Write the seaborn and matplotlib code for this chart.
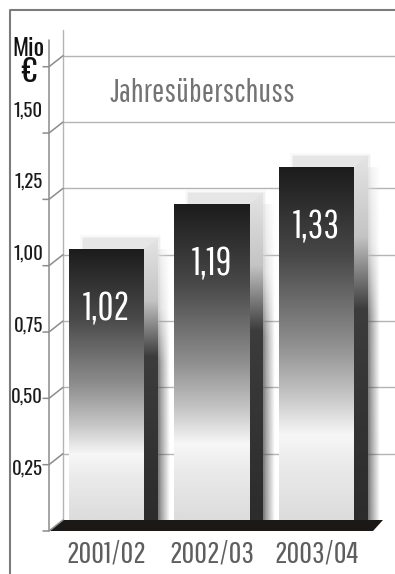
import numpy as np
import pandas as pd
import matplotlib
matplotlib.use("Agg")
import matplotlib.pyplot as plt
from matplotlib.colors import LinearSegmentedColormap
from matplotlib.patches import Polygon, Rectangle
import seaborn as sns

years = ["2001/02", "2002/03", "2003/04"]
values = [1.02, 1.19, 1.33]
value_labels = ["1,02", "1,19", "1,33"]
tick_values = [0.25, 0.50, 0.75, 1.00, 1.25, 1.50, 1.75]
tick_labels = ["0,25", "0,50", "0,75", "1,00", "1,25", "1,50", ""]
title = "Jahresüberschuss"
unit_top = "Mio"
unit_bottom = "€"

W, H = 395, 574
# layout in pixels: value 0 on the floor at y=520, 1 unit = 265.3 px, bars 105 px apart
Y0, YS = 520.0, 265.3
X0, XS = 106.5, 105.0
OX, OY = 14 / XS, 11 / YS   # depth offset of the 3d look

NARROW = ["Pathway Gothic One", "DejaVu Sans"]
HEAVY = ["Oswald", "Pathway Gothic One", "DejaVu Sans"]


def px(x):
    return (x - X0) / XS


def py(y):
    return (Y0 - y) / YS


face_cmap = LinearSegmentedColormap.from_list("face", [
    (0.00, "#1c1c1c"), (0.25, "#484848"), (0.50, "#8e8e8e"), (0.65, "#c6c6c6"),
    (0.76, "#f7f7f7"), (0.84, "#ebebeb"), (1.00, "#dcdcdc")])
side_cmap = LinearSegmentedColormap.from_list("side", [
    (0.00, "#e4e4e4"), (0.22, "#c4c4c4"), (0.42, "#3c3c3c"), (1.00, "#2c2c2c")])

sns.set_style("white")
plt.rcParams['font.family'] = NARROW

fig = plt.figure(figsize=(W / 100, H / 100), dpi=100)
ax = fig.add_axes([0, 0, 1, 1])

df = pd.DataFrame({"year": years, "value": values})
sns.barplot(data=df, x="year", y="value", width=75 / XS, color="white",
            errorbar=None, ax=ax, zorder=6)

grad = np.linspace(0, 1, 256)[:, None]

for patch, lab in zip(list(ax.patches), value_labels):
    x0, w, h = patch.get_x(), patch.get_width(), patch.get_height()
    xr = x0 + w
    patch.set_facecolor("none")
    patch.set_edgecolor("none")

    # soft back box
    for k, a in [(3, 0.15), (1.5, 0.3)]:
        ax.add_patch(Rectangle((x0 + OX - k / XS, 0), w + 2 * k / XS, h + OY + k / YS,
                               facecolor="#d8d8d8", edgecolor="none", alpha=a, zorder=3))
    ax.add_patch(Rectangle((x0 + OX, 0), w, h + OY, facecolor="#e6e6e6",
                           edgecolor="none", zorder=3))

    # shadow right of the side
    sh = np.zeros((256, 32, 4))
    cols = side_cmap(grad[:, 0])
    sh[:, :, :3] = cols[:, None, :3]
    sh[:, :, 3] = np.linspace(0.6, 0, 32)[None, :]
    ax.imshow(sh, extent=(xr + OX, xr + OX + 12 / XS, 0, h), aspect="auto",
              interpolation="bilinear", zorder=4)

    # side face
    side = Polygon([(xr, 0), (xr, h), (xr + OX, h + OY), (xr + OX, 0)],
                   facecolor="none", edgecolor="none", zorder=5)
    ax.add_patch(side)
    im = ax.imshow(grad, cmap=side_cmap, extent=(xr, xr + OX, 0, h + OY),
                   aspect="auto", interpolation="bilinear", zorder=5)
    im.set_clip_path(side)

    # front face
    im = ax.imshow(grad, cmap=face_cmap, extent=(x0, xr, 0, h), aspect="auto",
                   interpolation="bilinear", zorder=6)
    im.set_clip_path(patch)

    ax.text(x0 + w / 2, h - 60 / YS, lab, ha="center", va="center",
            color="white", fontsize=28, zorder=10)

# back wall grid
ax.hlines(tick_values, px(63), px(W), color="#b4b4b4", lw=1, zorder=1)
ax.plot([px(63), px(63)], [0, py(30)], color="#b4b4b4", lw=1, zorder=1)

# floor
ax.add_patch(Polygon([(px(50), py(531)), (px(373), py(531)), (px(383), py(520)),
                      (px(63), py(520))], facecolor="#1b1815", edgecolor="none", zorder=8))

# front axis with slanted ticks
ax.plot([px(49), px(49)], [py(531), py(40)], color="#8c8c8c", lw=1.1, zorder=9)
for v in [0] + tick_values:
    f = v - OY
    ax.plot([px(43), px(49), px(63)], [f, f, v], color="#8c8c8c", lw=1.1, zorder=9)

for v, lab in zip(tick_values, tick_labels):
    ax.text(px(43), py(540 - 286.4 * v), lab, ha="right", va="center",
            fontsize=13.5, family=HEAVY, color="#1a1a1a")

ax.text(px(28.5), py(48), unit_top, ha="center", va="center", fontsize=17.5,
        family=HEAVY, color="#111111")
ax.text(px(28.5), py(73), unit_bottom, ha="center", va="center", fontsize=22,
        family=HEAVY, color="#111111")

ax.text(px(202), py(102), title, ha="center", va="baseline", fontsize=23.5,
        color="#737373")

for i, yr in enumerate(years):
    ax.text(i, py(563), yr, ha="center", va="baseline", fontsize=22.5,
            color="#5e5e5e")

# outer frame
ax.plot([px(10), px(10), px(W)], [py(H), py(10), py(10)], color="#7c7c7c", lw=1.5,
        zorder=10)

ax.set_xlim(px(0), px(W))
ax.set_ylim(py(H), py(0))
ax.axis("off")

fig.savefig("out.png", dpi=100)
